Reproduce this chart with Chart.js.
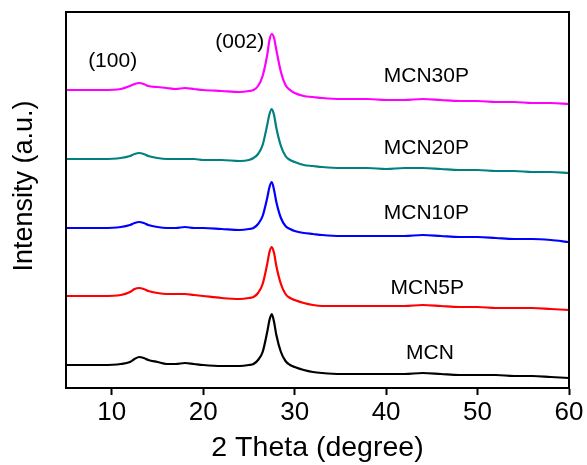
<!DOCTYPE html>
<html>
<head>
<meta charset="utf-8">
<script src="https://cdn.jsdelivr.net/npm/chart.js@4.4.1/dist/chart.umd.min.js"></script>
<style>
  html, body { margin: 0; padding: 0; background: #fff; }
  #wrap { width: 587px; height: 465px; }
</style>
</head>
<body>
<div id="wrap"><canvas id="xrd"></canvas></div>
<script>
// 2 theta positions (degree), shared by all patterns
const twoTheta = [5, 7, 9, 11, 12, 12.5, 13, 13.5, 14, 15, 16, 17, 18, 19, 20, 22, 24, 25, 25.5, 26, 26.5, 27, 27.25, 27.5, 27.75, 28, 28.5, 29, 29.5, 30, 31, 32, 33, 35, 38, 40, 42, 44, 46, 48, 50, 52, 54, 56, 58, 60];

// intensities (a.u., already stacked)
const mcn    = [23, 23, 23, 24, 26, 29, 31, 30, 28, 26, 24, 24, 25, 24, 23, 22, 22, 23, 24, 28, 36, 56, 68, 74, 66, 53, 36, 27, 23, 21, 18, 16, 15, 14, 14, 14, 14, 15, 14, 13, 13, 13, 12, 12, 11, 10];
const mcn5p  = [92, 92, 92, 93, 96, 99, 100, 99, 97, 95, 94, 94, 94, 93, 92, 90, 89, 90, 91, 95, 104, 124, 136, 141, 135, 122, 104, 94, 90, 88, 85, 83, 82, 82, 82, 82, 82, 83, 82, 81, 81, 80, 80, 80, 79, 78];
const mcn10p = [160, 160, 160, 161, 163, 165, 166, 165, 163, 161, 160, 160, 161, 160, 160, 159, 158, 159, 160, 164, 172, 190, 201, 206, 198, 186, 170, 162, 159, 157, 155, 154, 153, 152, 152, 152, 152, 153, 152, 151, 151, 150, 149, 149, 148, 146];
const mcn20p = [229, 229, 229, 230, 232, 234, 235, 234, 232, 230, 229, 229, 229, 229, 228, 228, 227, 228, 230, 234, 243, 263, 274, 279, 273, 260, 242, 232, 228, 226, 223, 222, 221, 220, 220, 219, 220, 220, 219, 218, 218, 217, 217, 216, 216, 215];
const mcn30p = [298, 298, 298, 299, 302, 304, 305, 304, 302, 301, 300, 299, 300, 299, 298, 297, 296, 297, 298, 302, 312, 333, 348, 354, 350, 338, 316, 303, 298, 295, 292, 291, 290, 289, 289, 288, 288, 289, 288, 287, 287, 286, 286, 285, 285, 284];

const seriesNames = ['MCN', 'MCN5P', 'MCN10P', 'MCN20P', 'MCN30P'];
const seriesColors = ['#000000', '#ff0000', '#0000ff', '#008080', '#ff00ff'];

// text written inside the plot, with its place in data units
const noteText = ['(100)', '(002)', 'MCN30P', 'MCN20P', 'MCN10P', 'MCN5P', 'MCN'];
const noteX = [10.1, 24.0, 44.4, 44.4, 44.4, 44.5, 44.8];
const noteY = [327, 346, 312, 240, 175, 100, 35];

const FONT = '"Liberation Sans", Arial, sans-serif';

function toPoints(ys) {
    return twoTheta.map((x, i) => ({ x: x, y: ys[i] }));
}

const allSeries = [mcn, mcn5p, mcn10p, mcn20p, mcn30p];

const datasets = allSeries.map((ys, i) => ({
    label: seriesNames[i],
    data: toPoints(ys),
    borderColor: seriesColors[i],
    borderWidth: 2.2,
    pointRadius: 0,
    fill: false,
    cubicInterpolationMode: 'monotone'
}));

// frame, notes and y title
const decorations = {
    id: 'decorations',
    afterDatasetsDraw(chart) {
        const ctx = chart.ctx;
        const a = chart.chartArea;
        const xs = chart.scales.x, ys = chart.scales.y;
        ctx.save();
        ctx.fillStyle = '#000';
        ctx.font = '21px ' + FONT;
        ctx.textAlign = 'center';
        ctx.textBaseline = 'middle';
        noteText.forEach((t, i) => {
            ctx.fillText(t, xs.getPixelForValue(noteX[i]), ys.getPixelForValue(noteY[i]));
        });
        ctx.strokeStyle = '#000';
        ctx.lineWidth = 2;
        ctx.strokeRect(a.left, a.top, a.right - a.left, a.bottom - a.top);

        ctx.translate(25, 186);
        ctx.rotate(-Math.PI / 2);
        ctx.font = '27px ' + FONT;
        ctx.fillText('Intensity (a.u.)', 0, 0);
        ctx.restore();
    }
};

window.onload = function() {
    const ctx = document.getElementById('xrd').getContext('2d');
    new Chart(ctx, {
        type: 'line',
        data: { datasets: datasets },
        options: {
            responsive: true,
            maintainAspectRatio: false,
            animation: false,
            layout: { padding: { top: 12, right: 18, left: 0, bottom: 0 } },
            plugins: {
                legend: { display: false },
                tooltip: { enabled: false }
            },
            scales: {
                x: {
                    type: 'linear',
                    min: 5,
                    max: 60,
                    afterBuildTicks: scale => {
                        scale.ticks = scale.ticks.filter(t => t.value % 10 === 0);
                    },
                    afterFit: scale => { scale.height = 77; },
                    ticks: {
                        stepSize: 10,
                        color: '#000',
                        padding: 2,
                        maxRotation: 0,
                        font: { family: FONT, size: 26 }
                    },
                    grid: {
                        drawOnChartArea: false,
                        drawTicks: true,
                        tickLength: 7,
                        tickWidth: 2,
                        tickColor: '#000'
                    },
                    border: { display: true, color: '#000', width: 2 },
                    title: {
                        display: true,
                        text: '2 Theta (degree)',
                        color: '#000',
                        padding: { top: 0, bottom: 0 },
                        font: { family: FONT, size: 28.5 }
                    }
                },
                y: {
                    min: 0,
                    max: 376,
                    afterFit: scale => { scale.width = 66; },
                    ticks: { display: false },
                    grid: { display: false },
                    border: { display: true, color: '#000', width: 2 }
                }
            }
        },
        plugins: [decorations]
    });
};
</script>
</body>
</html>
